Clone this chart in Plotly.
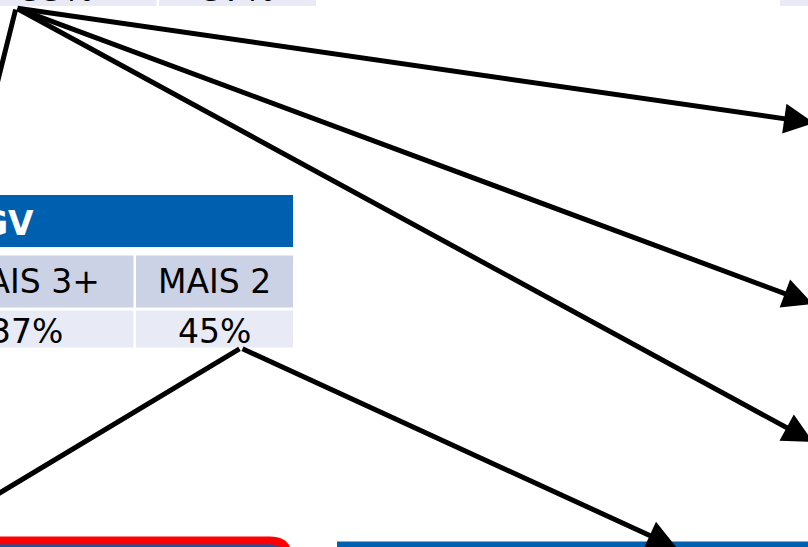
import plotly.graph_objects as go

W, H = 808, 547

BLUE = "#0060B0"
ROW_DARK = "#CCD2E5"
ROW_LIGHT = "#E8EBF5"
RED = "#FF0000"
INK = "#000000"
FONT = "DejaVu Sans, Verdana, sans-serif"

# table fragment (lower left)
HEADER_TEXT = "GV"
COLUMN_LABELS = ["MAIS 3+", "MAIS 2"]
COLUMN_VALUES = ["37%", "45%"]
# cut-off table row at the very top
TOP_VALUES = ["33%", "37%"]

# connector lines: (tail x, tail y, head x, head y), arrow or not
CONNECT_FROM = [(16, 8), (16, 8), (16, 8), (16, 8), (241, 348), (241, 348)]
CONNECT_TO = [(-4, 88), (814, 123), (813, 304), (813, 442), (-12, 500), (677, 548)]
CONNECT_ARROW = [False, True, True, True, False, True]

fig = go.Figure()

shapes = []


def cell(x0, y0, x1, y1, color):
    shapes.append(dict(type="rect", xref="x", yref="y", x0=x0, y0=y0, x1=x1, y1=y1,
                       fillcolor=color, line_width=0, layer="below"))


# top fragment
cell(-20, -20, 156.5, 6, ROW_LIGHT)
cell(159, -20, 316, 6, ROW_LIGHT)
cell(780, -20, 830, 6, ROW_LIGHT)

# lower-left table
cell(-20, 195, 293, 247, BLUE)
cell(-20, 255.5, 133.5, 307.5, ROW_DARK)
cell(136, 255.5, 293, 307.5, ROW_DARK)
cell(-20, 310.5, 133.5, 347.5, ROW_LIGHT)
cell(136, 310.5, 293, 347.5, ROW_LIGHT)

# bottom boxes
cell(-20, 544, 284, 600, BLUE)
shapes.append(dict(type="path", xref="x", yref="y",
                   path="M -20,540.5 L 270,540.5 Q 288,540.5 288,558 L 288,600",
                   line=dict(color=RED, width=8), layer="below"))
cell(337, 541.5, 830, 600, BLUE)

annotations = []


def label(x, y, text, anchor, yanchor="middle", bold=False, color=INK):
    annotations.append(dict(x=x, y=y, xref="x", yref="y", text=f"<b>{text}</b>" if bold else text,
                            showarrow=False, xanchor=anchor, yanchor=yanchor,
                            borderpad=0, borderwidth=0,
                            font=dict(family=FONT, size=33, color=color)))


label(34, 223, HEADER_TEXT, "right", bold=True, color="white")
label(100, 281.5, COLUMN_LABELS[0], "right")
label(214, 281.5, COLUMN_LABELS[1], "center")
label(63, 331.5, COLUMN_VALUES[0], "right")
label(214, 331.5, COLUMN_VALUES[1], "center")
label(57, 9.5, TOP_VALUES[0], "center", yanchor="bottom")
label(238, 9.5, TOP_VALUES[1], "center", yanchor="bottom")

for (tx, ty), (hx, hy), arrow in zip(CONNECT_FROM, CONNECT_TO, CONNECT_ARROW):
    annotations.append(dict(x=hx, y=hy, ax=tx, ay=ty, xref="x", yref="y", axref="x", ayref="y",
                            text="", showarrow=True, arrowhead=2 if arrow else 0,
                            arrowsize=1.2, arrowwidth=5, arrowcolor=INK))

fig.update_layout(
    width=W, height=H,
    margin=dict(l=0, r=0, t=0, b=0),
    paper_bgcolor="white", plot_bgcolor="white",
    showlegend=False,
    xaxis=dict(range=[0, W], visible=False, fixedrange=True),
    yaxis=dict(range=[H, 0], visible=False, fixedrange=True),
    shapes=shapes,
    annotations=annotations,
)

# page body margin would otherwise offset the figure by 8px
fig.write_html("out.html", config={"displayModeBar": False},
               post_script="document.body.style.margin='0';")
